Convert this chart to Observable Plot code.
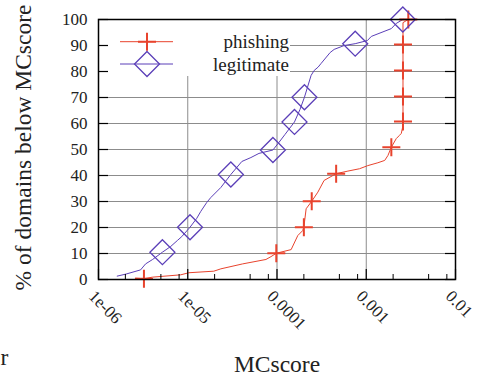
<!DOCTYPE html>
<html><head><meta charset="utf-8">
<script src="https://cdn.jsdelivr.net/npm/d3@7"></script>
<script src="https://cdn.jsdelivr.net/npm/@observablehq/plot@0.6"></script>
<style>body{margin:0;background:#fff}</style>
</head><body><div id="chart"></div>
<script>
// ---- data ----
const seriesNames = ["phishing", "legitimate"];
const seriesColors = ["#e8432d", "#5b3fb8"];

const phishingX = [2.61e-6, 3.23e-6, 4.01e-6, 8.34e-6, 1.03e-5, 1.96e-5, 2.35e-5, 4.12e-5, 7.52e-5, 8.57e-5, 9.82e-5, 1.44e-4, 1.71e-4, 1.94e-4, 2.0e-4, 2.12e-4, 2.45e-4, 2.87e-4, 3.37e-4, 4.6e-4, 6.23e-4, 8.41e-4, 1.04e-3, 1.35e-3, 1.61e-3, 1.75e-3, 1.91e-3, 2.17e-3, 2.35e-3, 2.47e-3, 2.58e-3, 2.58e-3, 2.58e-3, 2.58e-3, 2.58e-3, 2.58e-3, 2.96e-3];
const phishingY = [0.5, 0.3, 0.9, 1.8, 2.6, 3.2, 4.1, 6.0, 7.7, 8.8, 10.1, 11.5, 16.9, 18.8, 20.1, 27.2, 30.1, 33.6, 38.1, 40.7, 41.7, 42.6, 43.8, 44.9, 45.8, 47.7, 50.9, 54.2, 55.4, 56.2, 59.2, 60.8, 70.4, 80.4, 90.4, 98.8, 100];
const phishingMarkX = [3.23e-6, 9.82e-5, 2.0e-4, 2.45e-4, 4.6e-4, 1.91e-3, 2.58e-3, 2.58e-3, 2.58e-3, 2.58e-3, 2.96e-3];
const phishingMarkY = [0.3, 10.1, 20.1, 30.1, 40.7, 50.9, 60.8, 70.4, 80.4, 90.4, 100];

const legitimateX = [1.62e-6, 2.04e-6, 2.96e-6, 3.37e-6, 4.04e-6, 5.2e-6, 6.44e-6, 7.65e-6, 8.57e-6, 1.06e-5, 1.26e-5, 1.40e-5, 1.63e-5, 1.81e-5, 2.35e-5, 3.04e-5, 4.04e-5, 5.1e-5, 6.28e-5, 9.0e-5, 1.05e-4, 1.23e-4, 1.57e-4, 1.81e-4, 2.03e-4, 2.41e-4, 2.61e-4, 2.89e-4, 3.12e-4, 3.94e-4, 4.37e-4, 5.66e-4, 7.52e-4, 1.03e-3, 1.14e-3, 1.91e-3, 2.17e-3, 2.57e-3];
const legitimateY = [1.3, 2.1, 3.7, 6.0, 7.7, 10.5, 12.7, 15.0, 16.5, 20.1, 23.5, 26.2, 29.6, 31.5, 35.4, 40.4, 45.4, 46.9, 48.5, 49.8, 52.7, 55.8, 60.6, 65.4, 70.1, 78.5, 80.4, 81.7, 83.1, 87.3, 88.5, 90.0, 90.7, 91.9, 93.5, 96.5, 98.5, 100];
const legitimateMarkX = [5.2e-6, 1.06e-5, 3.04e-5, 9.0e-5, 1.57e-4, 2.03e-4, 7.52e-4, 2.57e-3];
const legitimateMarkY = [10.5, 20.1, 40.4, 49.8, 60.6, 70.1, 90.7, 100];

const xMajor = [1e-6, 1e-5, 1e-4, 1e-3, 1e-2];
const xTickLabels = ["1e-06", "1e-05", "0.0001", "0.001", "0.01"];
const xMinor = [2e-6, 5e-6, 8e-6, 2e-5, 5e-5, 8e-5, 2e-4, 5e-4, 8e-4, 2e-3, 5e-3, 8e-3];
const xGrid = [1e-5, 1e-4, 1e-3];
const yTicks = [0, 10, 20, 30, 40, 50, 60, 70, 80, 90, 100];
const yGrid = [10, 20, 30, 40, 50, 60, 70, 80, 90];
const xTitle = "MCscore";
const yTitle = "% of domains below MCscore";
const strayText = "r";

// ---- build tables ----
const phishing = phishingX.map((x, i) => ({x, y: phishingY[i]}));
const phishingMarks = phishingMarkX.map((x, i) => ({x, y: phishingMarkY[i]}));
const legitimate = legitimateX.map((x, i) => ({x, y: legitimateY[i]}));
const legitimateMarks = legitimateMarkX.map((x, i) => ({x, y: legitimateMarkY[i]}));
const xLabels = xMajor.map((v, i) => ({v, t: xTickLabels[i]}));

const FONT = "Liberation Serif";
const GRID = "#8c8c8c";
const INK = "#222";

const plusSym = {draw(ctx) { ctx.moveTo(-9, 0); ctx.lineTo(9, 0); ctx.moveTo(0, -9); ctx.lineTo(0, 9); }};
const diamondSym = {draw(ctx) { ctx.moveTo(0, -12.5); ctx.lineTo(12.5, 0); ctx.lineTo(0, 12.5); ctx.lineTo(-12.5, 0); ctx.closePath(); }};
const symbols = [plusSym, diamondSym];
const symbolWidths = [2, 1.3];

function legend(index, scales, values, dims) {
  const ml = dims.marginLeft, mt = dims.marginTop;
  const g = d3.create("svg:g");
  g.append("rect").attr("x", ml + 1).attr("y", mt + 1).attr("width", 191).attr("height", 56).attr("fill", "white");
  seriesNames.forEach((name, i) => {
    const cy = mt + 22.7 + i * 22.3;
    g.append("line").attr("x1", ml + 22).attr("x2", ml + 75).attr("y1", cy).attr("y2", cy)
      .attr("stroke", seriesColors[i]).attr("stroke-width", 1);
    const p = d3.path();
    symbols[i].draw(p);
    g.append("path").attr("d", p.toString()).attr("transform", `translate(${ml + 49},${cy})`)
      .attr("fill", "none").attr("stroke", seriesColors[i]).attr("stroke-width", symbolWidths[i]);
    g.append("text").attr("x", ml + 191).attr("y", cy + 6.5).attr("text-anchor", "end")
      .style("font-family", FONT).style("font-size", "19px").attr("fill", INK).text(name);
  });
  return g.node();
}

const txt = {fontFamily: FONT, fill: INK};

const chart = Plot.plot({
  width: 477,
  height: 378,
  marginLeft: 98,
  marginTop: 19,
  marginRight: 22,
  marginBottom: 99,
  style: {fontFamily: FONT, background: "white", overflow: "visible"},
  x: {type: "log", domain: [1e-6, 1e-2], axis: null},
  y: {domain: [0, 100], axis: null},
  marks: [
    Plot.ruleY(yGrid, {y: d => d, stroke: GRID, strokeWidth: 1}),
    Plot.ruleX(xGrid, {x: d => d, stroke: GRID, strokeWidth: 1}),
    legend,
    Plot.line(phishing, {x: "x", y: "y", stroke: seriesColors[0], strokeWidth: 1}),
    Plot.line(legitimate, {x: "x", y: "y", stroke: seriesColors[1], strokeWidth: 1}),
    Plot.dot(phishingMarks, {x: "x", y: "y", symbol: plusSym, stroke: seriesColors[0], strokeWidth: 2, fill: "none"}),
    Plot.dot(legitimateMarks, {x: "x", y: "y", symbol: diamondSym, stroke: seriesColors[1], strokeWidth: 1.3, fill: "none"}),
    Plot.frame({stroke: "black", strokeWidth: 1.5}),
    Plot.tickX(xMajor, {x: d => d, insetTop: 250, stroke: "black", strokeWidth: 1.2}),
    Plot.tickX(xMinor, {x: d => d, insetTop: 255, stroke: "black", strokeWidth: 1}),
    Plot.tickY(yTicks, {y: d => d, insetRight: 347, stroke: "black", strokeWidth: 1.2}),
    Plot.tickY(yTicks, {y: d => d, insetLeft: 347, stroke: "black", strokeWidth: 1.2}),
    Plot.text(yTicks, {...txt, y: d => d, text: d => String(d), frameAnchor: "left", textAnchor: "end", lineAnchor: "middle", dx: -11, fontSize: 17}),
    Plot.text(xLabels, {...txt, x: "v", text: "t", frameAnchor: "bottom", textAnchor: "start", lineAnchor: "middle", rotate: 45, dx: -7, dy: 14, fontSize: 17}),
    Plot.text([xTitle], {...txt, text: d => d, frameAnchor: "bottom", textAnchor: "middle", lineAnchor: "bottom", dy: 92, fontSize: 23.5}),
    Plot.text([yTitle], {...txt, text: d => d, frameAnchor: "left", textAnchor: "middle", rotate: -90, lineAnchor: "bottom", dx: -68, dy: -2, fontSize: 23.5}),
    Plot.text([strayText], {...txt, text: d => d, frameAnchor: "bottom-left", textAnchor: "start", lineAnchor: "bottom", dx: -98, dy: 85, fontSize: 23.5})
  ]
});
document.getElementById("chart").appendChild(chart);
</script>
</body></html>
